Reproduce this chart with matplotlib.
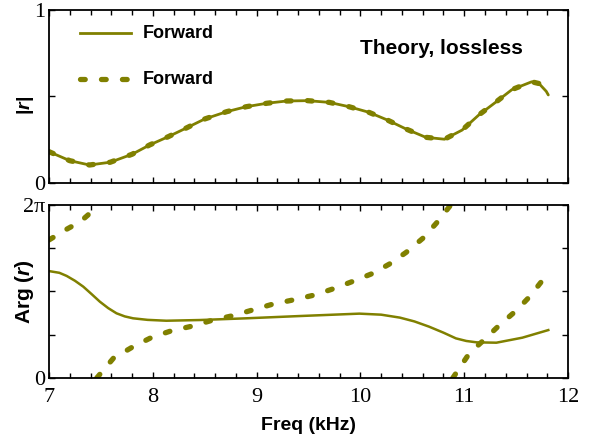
import numpy as np
import matplotlib
matplotlib.use("Agg")
import matplotlib.pyplot as plt
from matplotlib.ticker import MultipleLocator, FixedLocator

plt.rcParams['mathtext.fontset'] = 'custom'
plt.rcParams['mathtext.rm'] = 'Liberation Sans:bold'
plt.rcParams['mathtext.it'] = 'Liberation Sans:bold:italic'
plt.rcParams['mathtext.bf'] = 'Liberation Sans:bold'
plt.rcParams['lines.scale_dashes'] = False

OLIVE = '#808000'

# |r| (theory, lossless) - both curves coincide
freq_mag = [7.0, 7.2, 7.39, 7.59, 7.8, 7.97, 8.15, 8.33, 8.5, 8.71, 8.9, 9.1, 9.29,
            9.49, 9.7, 9.89, 10.08, 10.26, 10.44, 10.63, 10.81, 10.98, 11.14,
            11.31, 11.46, 11.65, 11.72, 11.79, 11.81]
mag = [0.181, 0.129, 0.104, 0.12, 0.166, 0.22, 0.268, 0.32, 0.37, 0.412, 0.441, 0.461, 0.474,
       0.476, 0.466, 0.441, 0.409, 0.364, 0.312, 0.264, 0.253, 0.306, 0.393,
       0.47, 0.54, 0.585, 0.575, 0.53, 0.509]

# Arg(r), solid curve (fraction of 2*pi)
freq_arg_solid = [7.0, 7.1, 7.17, 7.25, 7.33, 7.41, 7.49, 7.57, 7.65, 7.73, 7.81, 7.95, 8.13, 8.45,
                  8.9, 9.41, 9.99, 10.2, 10.38, 10.52, 10.66, 10.8, 10.92, 11.02, 11.12,
                  11.31, 11.56, 11.81]
arg_solid = [0.618, 0.608, 0.59, 0.562, 0.528, 0.485, 0.441, 0.404, 0.374, 0.356, 0.345, 0.336, 0.331, 0.335,
             0.345, 0.358, 0.372, 0.366, 0.349, 0.327, 0.297, 0.262, 0.229, 0.214, 0.206,
             0.204, 0.233, 0.277]

# Arg(r), dashed curve (fraction of 2*pi), three wrapped branches
freq_arg_d1 = [7.0, 7.17, 7.3, 7.375, 7.45]
arg_d1 = [0.798, 0.86, 0.903, 0.942, 1.0]
freq_arg_d2 = [7.46, 7.62, 7.81, 7.99, 8.18, 8.38, 8.58, 8.77, 8.96, 9.15, 9.35, 9.56,
               9.73, 9.92, 10.12, 10.28, 10.44, 10.6, 10.73, 10.87]
arg_d2 = [0.0, 0.114, 0.181, 0.235, 0.273, 0.3, 0.335, 0.36, 0.393, 0.426, 0.451, 0.48,
          0.514, 0.557, 0.605, 0.659, 0.726, 0.807, 0.894, 1.0]
freq_arg_d3 = [10.89, 11.05, 11.19, 11.34, 11.5, 11.63, 11.8]
arg_d3 = [0.0, 0.143, 0.22, 0.306, 0.389, 0.47, 0.60]

legend_labels = ['Forward', 'Forward']

fig = plt.figure(figsize=(5.92, 4.45), dpi=100)
ax1 = fig.add_axes([0.0828, 0.5888, 0.8767, 0.3887])
ax2 = fig.add_axes([0.0828, 0.1506, 0.8767, 0.3887])

DASH = (0, (3.4, 11.7))

ax1.plot(freq_mag, mag, color=OLIVE, lw=2.0, solid_capstyle='round')
ax1.plot(freq_mag, mag, color=OLIVE, lw=3.8, linestyle=DASH, dash_capstyle='round')

twopi = 2 * np.pi
ax2.plot(freq_arg_solid, np.array(arg_solid) * twopi, color=OLIVE, lw=1.8)
for fx, fy in [(freq_arg_d1, arg_d1), (freq_arg_d2, arg_d2), (freq_arg_d3, arg_d3)]:
    ax2.plot(fx, np.array(fy) * twopi, color=OLIVE, lw=3.8, linestyle=DASH,
             dash_capstyle='round', clip_on=True)

for ax in (ax1, ax2):
    ax.set_xlim(7, 12)
    ax.xaxis.set_major_locator(MultipleLocator(1))
    ax.xaxis.set_minor_locator(MultipleLocator(0.2))
    ax.tick_params(which='both', direction='in', top=True, right=True, width=1.0, color='black')
    ax.tick_params(which='major', length=4)
    ax.tick_params(which='minor', length=3.5)
    for s in ax.spines.values():
        s.set_linewidth(1.3)

ax1.set_ylim(0, 1)
ax1.yaxis.set_major_locator(FixedLocator([0, 0.5, 1]))
ax1.set_yticklabels(['0', '', '1'])
ax1.tick_params(axis='x', which='both', labelbottom=False)

ax2.set_ylim(0, twopi)
ax2.yaxis.set_major_locator(FixedLocator([0, np.pi / 2, np.pi, 3 * np.pi / 2, twopi]))
ax2.set_yticklabels(['0', '', '', '', '2π'])
ax2.set_xticks([7, 8, 9, 10, 11, 12])
ax2.set_xticklabels(['7', '8', '9', '10', '11', '12'])

for ax in (ax1, ax2):
    for lab in ax.get_xticklabels() + ax.get_yticklabels():
        lab.set_fontfamily('Liberation Serif')
        lab.set_fontsize(16)
    ax.tick_params(axis='y', pad=3)
    ax.tick_params(axis='x', pad=7)

ax2.set_xlabel('Freq (kHz)', fontfamily='Liberation Sans', fontweight='bold', fontsize=14)
ax2.xaxis.set_label_coords(0.5, -0.225)
ax1.set_ylabel('|$r$|', fontfamily='Liberation Sans', fontweight='bold', fontsize=14)
ax1.yaxis.set_label_coords(-0.025, 0.45)
ax2.set_ylabel('Arg ($r$)', fontfamily='Liberation Sans', fontweight='bold', fontsize=15)
ax2.yaxis.set_label_coords(-0.025, 0.5)

# legend-like annotations
ax1.plot([7.3, 7.79], [0.867, 0.867], color=OLIVE, lw=2.0)
ax1.plot([7.3, 7.79], [0.60, 0.60], color=OLIVE, lw=3.8, linestyle=DASH, dash_capstyle='round')
ax1.text(7.9, 0.867, legend_labels[0], fontfamily='Liberation Sans', fontweight='bold',
         fontsize=13, va='center', ha='left')
ax1.text(7.9, 0.60, legend_labels[1], fontfamily='Liberation Sans', fontweight='bold',
         fontsize=13, va='center', ha='left')
ax1.text(10.78, 0.78, 'Theory, lossless', fontfamily='Liberation Sans', fontweight='bold',
         fontsize=15, va='center', ha='center')

fig.savefig('out.png', dpi=100)
